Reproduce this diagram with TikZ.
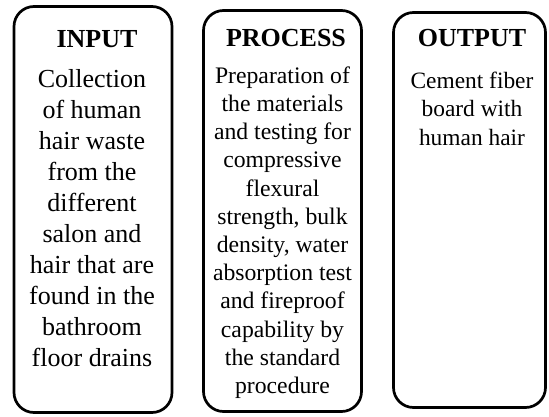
\documentclass[tikz,border=0pt]{standalone}
\usepackage{fontspec}
\setmainfont{Liberation Serif}
\usetikzlibrary{positioning}

\begin{document}
\begin{tikzpicture}[every node/.style={inner sep=0pt},
                    stage/.style={draw, line width=2.7pt, rounded corners=20pt},
                    head/.style={font=\fontsize{26}{30}\selectfont\bfseries},
                    body/.style={align=center}]
\useasboundingbox (0,0) rectangle (549pt,416pt);
% the three boxes
\node[stage, minimum width=158pt, minimum height=406pt] (inbox) at (93pt,206.5pt) {};
\node[stage, minimum width=158pt, minimum height=401pt] (procbox) at (282.5pt,205pt) {};
\node[stage, minimum width=152pt, minimum height=395pt] (outbox) at (469.5pt,206pt) {};
% headings
\node[head, anchor=base] (inhead) at (97pt,368pt) {INPUT};
\node[head, anchor=base] (prochead) at (286pt,369pt) {PROCESS};
\node[head, anchor=base] (outhead) at (472pt,369pt) {OUTPUT};
% texts
\node[body, font=\fontsize{26}{31}\selectfont, below=21pt of inhead, xshift=-5pt] (intext)
  {Collection\\of human\\hair waste\\from the\\different\\salon and\\hair that are\\found in the\\bathroom\\floor drains};
\node[body, font=\fontsize{23.7}{28.2}\selectfont, below=19pt of prochead, xshift=-3.5pt] (proctext)
  {Preparation of\\the materials\\and testing for\\compressive\\flexural\\strength, bulk\\density, water\\absorption test\\and fireproof\\capability by\\the standard\\procedure};
\node[body, font=\fontsize{23.4}{28.5}\selectfont, below=24pt of outhead] (outtext)
  {Cement fiber\\board with\\human hair};
\end{tikzpicture}
\end{document}
